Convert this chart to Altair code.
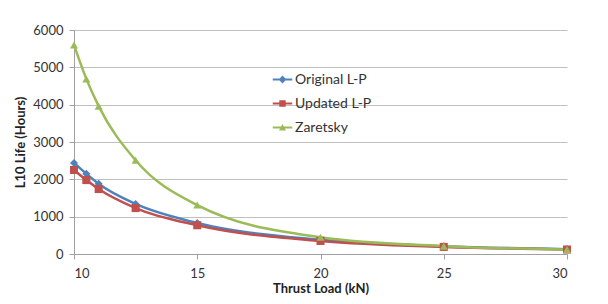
import altair as alt
import pandas as pd

thrust = [10, 10.5, 11, 12.5, 15, 20, 25, 30]
original = [2440, 2150, 1880, 1340, 830, 380, 210, 130]
updated = [2250, 1980, 1740, 1230, 770, 350, 190, 120]
zaretsky = [5600, 4690, 3960, 2510, 1310, 450, 210, 120]

series = ["Original L-P", "Updated L-P", "Zaretsky"]
colors = ["#4F81BD", "#C0504D", "#9BBB59"]
shapes = ["diamond", "square", "triangle-up"]
legend_shapes = [
    "M-1,-0.09H1V0.09H-1Z M-0.4,0L0,-0.4L0.4,0L0,0.4Z",
    "M-1,-0.09H1V0.09H-1Z M-0.33,-0.33H0.33V0.33H-0.33Z",
    "M-1,-0.09H1V0.09H-1Z M-0.36,0.3L0,-0.36L0.36,0.3Z",
]

rows = []
for name, vals in zip(series, [original, updated, zaretsky]):
    for x, y in zip(thrust, vals):
        rows.append({"Thrust": x, "Life": y, "Series": name, "Legend": name})
df = pd.DataFrame(rows)

font = "Lato"

x_enc = alt.X("Thrust:Q", title="Thrust Load (kN)",
              scale=alt.Scale(domain=[10, 30], nice=False, zero=False),
              axis=alt.Axis(values=[10, 15, 20, 25, 30], grid=False, tickSize=5,
                            labelPadding=8, titlePadding=2, labelFontSize=13,
                            titleFontSize=13, titleFontWeight="bold"))
y_enc = alt.Y("Life:Q", title="L10 Life (Hours)",
              scale=alt.Scale(domain=[0, 6000], nice=False),
              axis=alt.Axis(values=[0, 1000, 2000, 3000, 4000, 5000, 6000], grid=True,
                            format="d", tickSize=5, labelPadding=6, titlePadding=5,
                            labelFontSize=13, titleFontSize=13, titleFontWeight="bold"))

color_scale = alt.Scale(domain=series, range=colors)

lines = alt.Chart(df).mark_line(interpolate="monotone", strokeWidth=2.5).encode(
    x=x_enc, y=y_enc,
    color=alt.Color("Series:N", scale=color_scale, legend=None),
)

points = alt.Chart(df).mark_point(filled=True, size=65, opacity=1).encode(
    x=x_enc, y=y_enc,
    color=alt.Color("Series:N", scale=color_scale, legend=None),
    shape=alt.Shape("Series:N", scale=alt.Scale(domain=series, range=shapes), legend=None),
)

legend_layer = alt.Chart(df).mark_point(filled=True, size=0.5, opacity=1).encode(
    x=x_enc, y=y_enc,
    color=alt.Color("Legend:N", scale=alt.Scale(domain=series, range=colors),
                    legend=alt.Legend(title=None, orient="none", legendX=198, legendY=39,
                                      symbolSize=380, symbolOpacity=1, rowPadding=6,
                                      labelFontSize=14, labelColor="#333333",
                                      labelOffset=2)),
    shape=alt.Shape("Legend:N", scale=alt.Scale(domain=series, range=legend_shapes)),
)

chart = alt.layer(lines, points, legend_layer).resolve_scale(
    color="independent", shape="independent"
).properties(
    width=493, height=224,
    autosize=alt.AutoSizeParams(type="none"),
    padding={"left": 66, "top": 22, "right": 33, "bottom": 42},
).configure_axis(
    labelFont=font, titleFont=font, labelColor="#333333", titleColor="#222222",
    domainColor="#A0A0A0", tickColor="#A0A0A0", gridColor="#C0C0C0",
).configure_legend(labelFont=font).configure_view(stroke=None)

chart.save("out.html", embed_options={"renderer": "svg", "actions": False})
